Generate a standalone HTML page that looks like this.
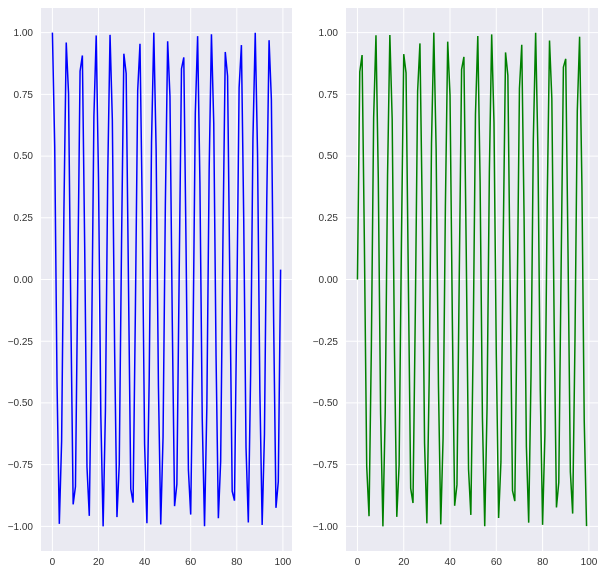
<!DOCTYPE html>
<html><head><meta charset="utf-8"><style>
body{margin:0;background:#fff;}
svg text{font-family:"Liberation Sans",sans-serif;font-size:10px;fill:#333;}
</style></head><body>
<svg id="s" width="604" height="574" xmlns="http://www.w3.org/2000/svg">
<rect x="41" y="8" width="251" height="543" fill="#EAEAF2"/>
<rect x="346" y="8" width="252" height="543" fill="#EAEAF2"/>
<g id="grid" stroke="#fff" stroke-width="1"></g>
<polyline id="p1" fill="none" stroke="#0000ff" stroke-width="1.5"/>
<polyline id="p2" fill="none" stroke="#008000" stroke-width="1.5"/>
<g text-anchor="end">
<text x="33" y="36">1.00</text><text x="33" y="98">0.75</text><text x="33" y="159">0.50</text><text x="33" y="221">0.25</text><text x="33" y="283">0.00</text><text x="33" y="345">−0.25</text><text x="33" y="406">−0.50</text><text x="33" y="468">−0.75</text><text x="33" y="530">−1.00</text>
<text x="338" y="36">1.00</text><text x="338" y="98">0.75</text><text x="338" y="159">0.50</text><text x="338" y="221">0.25</text><text x="338" y="283">0.00</text><text x="338" y="345">−0.25</text><text x="338" y="406">−0.50</text><text x="338" y="468">−0.75</text><text x="338" y="530">−1.00</text>
</g>
<g text-anchor="middle">
<text x="52.4" y="565">0</text><text x="98.5" y="565">20</text><text x="144.6" y="565">40</text><text x="190.7" y="565">60</text><text x="236.8" y="565">80</text><text x="282.9" y="565">100</text>
<text x="357.5" y="565">0</text><text x="403.8" y="565">20</text><text x="450.1" y="565">40</text><text x="496.4" y="565">60</text><text x="542.7" y="565">80</text><text x="589" y="565">100</text>
</g>
</svg>
<script>
(function(){
var axes=[{x0:41,w:251,id:'p1',f:Math.cos},{x0:346,w:252,id:'p2',f:Math.sin}];
var T=8,H=543,ymin=-1.0999,ymax=1.0999;
function Y(v){return T+(ymax-v)/(ymax-ymin)*H;}
var g=document.getElementById('grid'),ns='http://www.w3.org/2000/svg';
axes.forEach(function(a){
 function X(v){return a.x0+(v+4.95)/108.9*a.w;}
 for(var t=0;t<=100;t+=20){var l=document.createElementNS(ns,'line');l.setAttribute('x1',X(t));l.setAttribute('x2',X(t));l.setAttribute('y1',T);l.setAttribute('y2',T+H);g.appendChild(l);}
 for(var i=0;i<9;i++){var v=-1+i*0.25;var l=document.createElementNS(ns,'line');l.setAttribute('x1',a.x0);l.setAttribute('x2',a.x0+a.w);l.setAttribute('y1',Y(v));l.setAttribute('y2',Y(v));g.appendChild(l);}
 var pts=[];for(var k=0;k<100;k++)pts.push(X(k).toFixed(2)+','+Y(a.f(k)).toFixed(2));
 document.getElementById(a.id).setAttribute('points',pts.join(' '));
});
})();
</script>
</body></html>
